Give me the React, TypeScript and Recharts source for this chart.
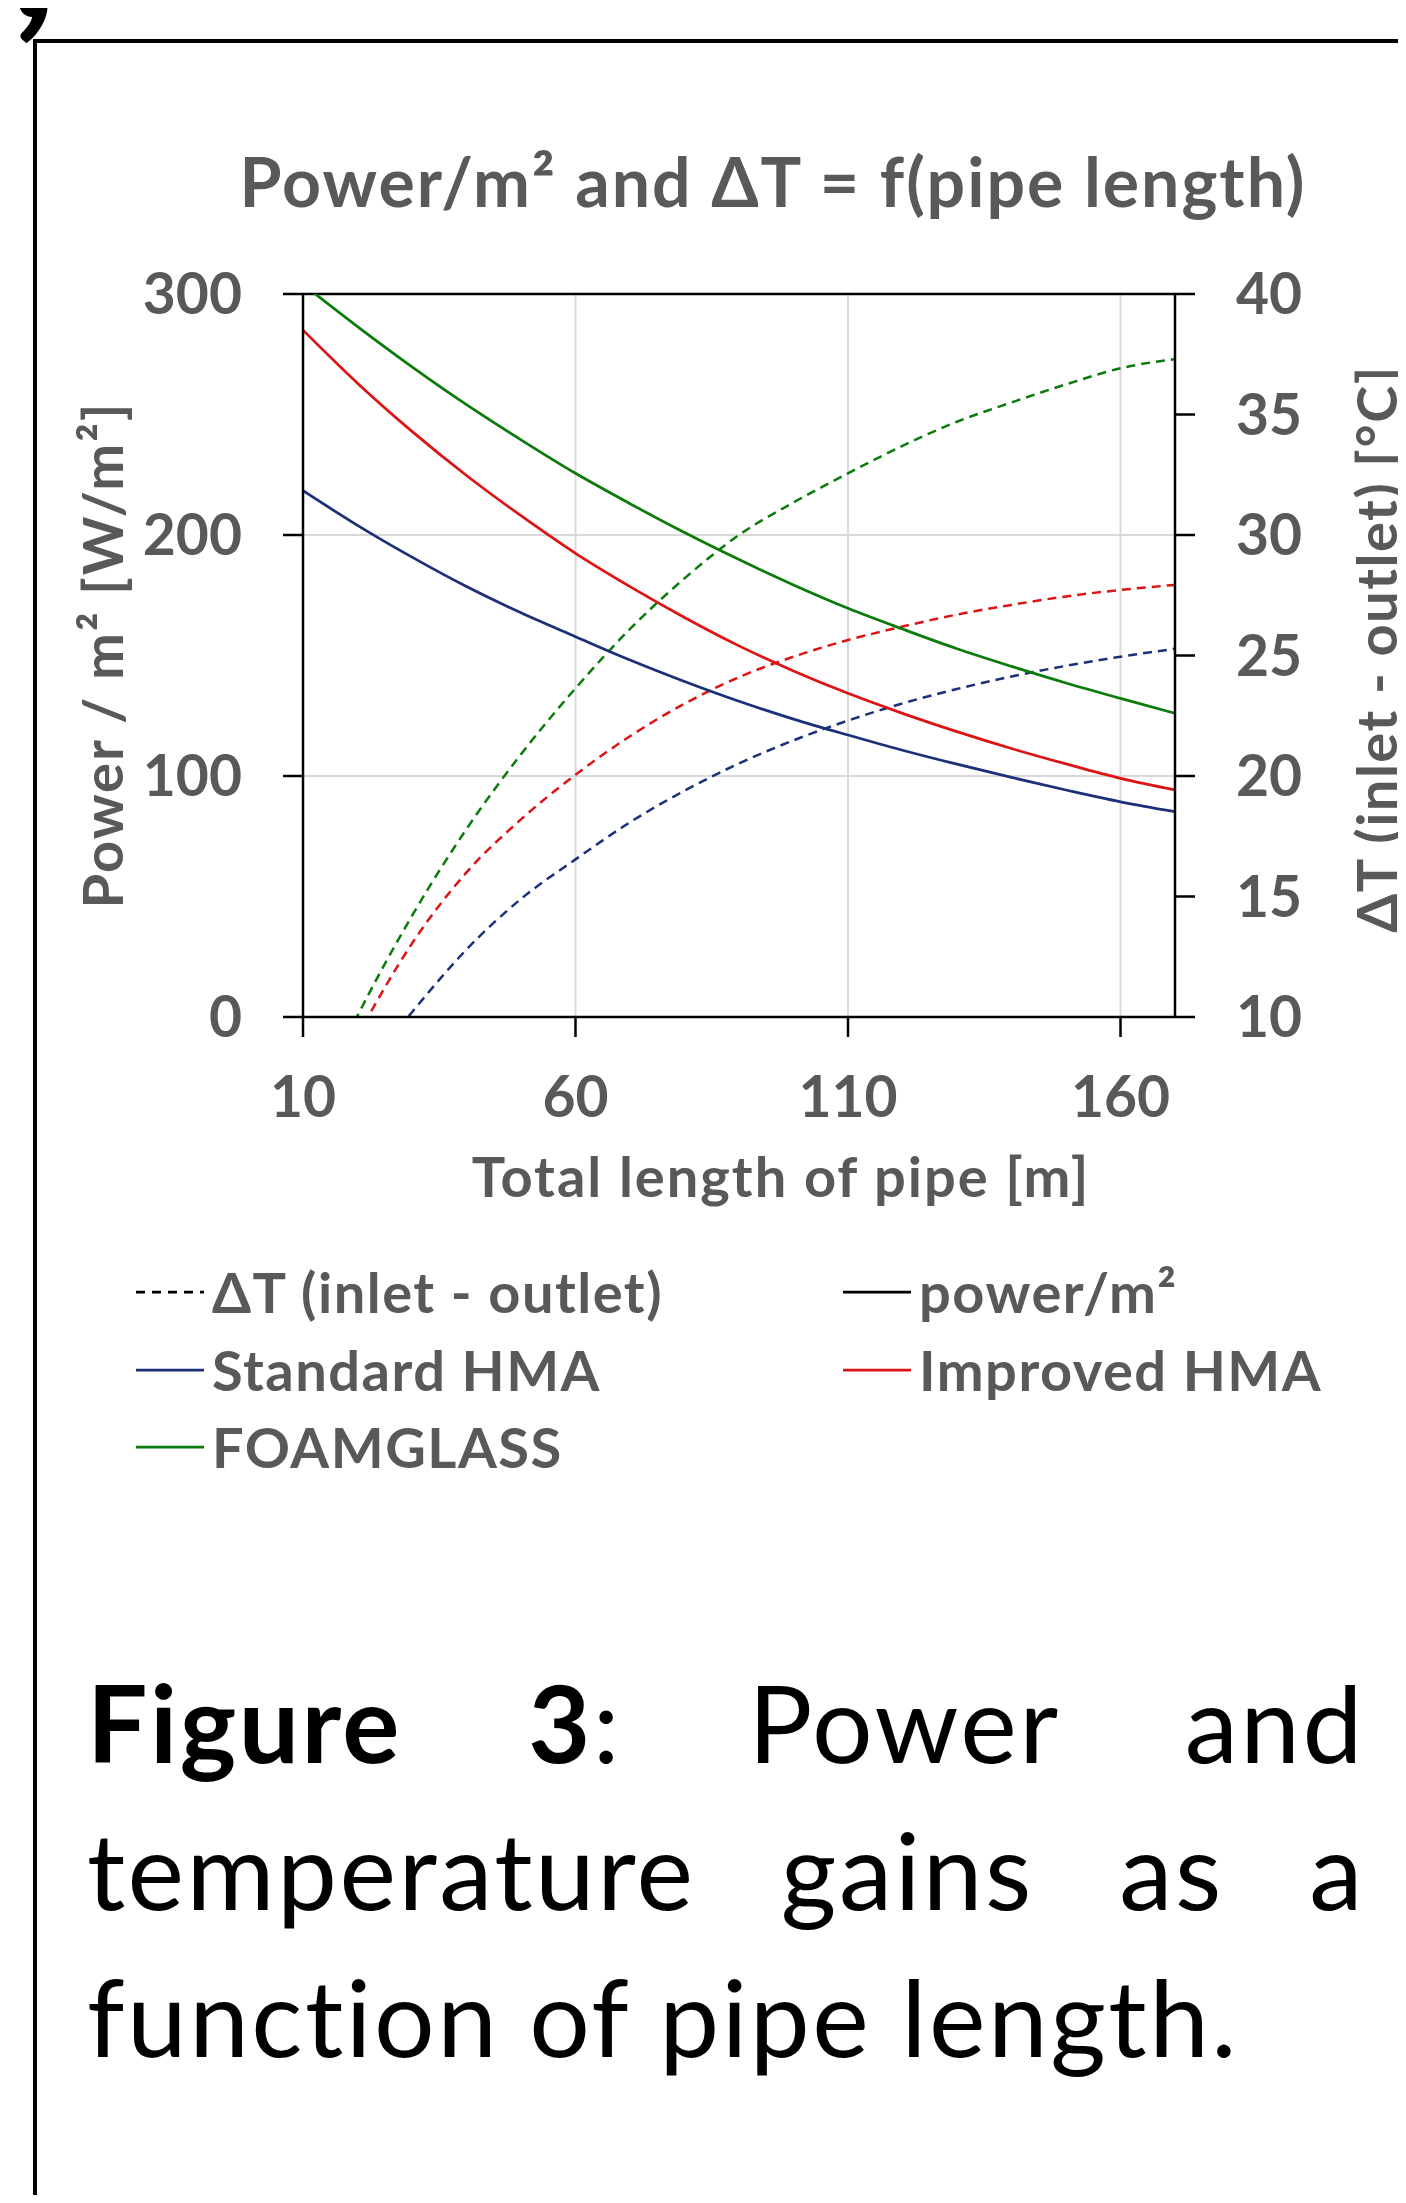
import React from 'react';
import { LineChart, Line, XAxis, YAxis, CartesianGrid, ReferenceLine, Legend } from 'recharts';

// pipe length [m]
const pipeLength = [10, 20, 30, 40, 50, 60, 70, 80, 90, 100, 110, 120, 130, 140, 150, 160, 170];

// power per m² [W/m²] (left axis)
const powerStandard = [218.4, 204, 190.8, 178.6, 167.7, 157.8, 148.1, 139.2, 131, 123.6, 117, 110.7, 104.9, 99.4, 94.2, 89.3, 85.2];
const powerImproved = [285, 263, 243, 224.7, 208, 192.4, 178.6, 165.8, 154, 143.6, 134.3, 126, 118.4, 111.4, 105, 99, 94.2];
const powerFoamglass = [304, 286.5, 269.8, 254.1, 239.5, 225.6, 213, 201, 189.8, 179.3, 169.6, 161, 152.8, 145.5, 138.6, 132.2, 126];

// ΔT inlet - outlet [°C] (right axis)
const deltaTStandard = [4.0, 7.35, 10.2, 12.8, 14.9, 16.54, 18.08, 19.39, 20.52, 21.48, 22.3, 23.01, 23.61, 24.13, 24.57, 24.95, 25.28];
const deltaTImproved = [4.7, 9.2, 13.05, 16.0, 18.2, 20.05, 21.65, 23.0, 24.1, 24.95, 25.64, 26.2, 26.7, 27.1, 27.45, 27.72, 27.93];
const deltaTFoamglass = [5.3, 10.05, 14.2, 17.8, 20.9, 23.64, 26.1, 28.2, 30.0, 31.35, 32.56, 33.7, 34.7, 35.5, 36.25, 36.92, 37.3];

const xTicks = [10, 60, 110, 160];
const powerTicks = [0, 100, 200, 300];
const deltaTTicks = [10, 15, 20, 25, 30, 35, 40];

const legendLabels = ['ΔT (inlet - outlet)', 'power/m²', 'Standard HMA', 'Improved HMA', 'FOAMGLASS'];

const NAVY = '#1b3079';
const RED = '#dc1414';
const GREEN = '#0b7b0b';
const GRAY = '#595959';
const FONT = 'Lato, "Open Sans", sans-serif';

const legendColors = ['#000000', '#000000', NAVY, RED, GREEN];
const legendDashed = [true, false, false, false, false];

const data = pipeLength.map((len, i) => ({
  length: len,
  pStd: powerStandard[i],
  pImp: powerImproved[i],
  pFoam: powerFoamglass[i],
  tStd: deltaTStandard[i],
  tImp: deltaTImproved[i],
  tFoam: deltaTFoamglass[i],
}));

const tickStyle = { fill: GRAY, fontSize: 57, fontFamily: FONT, fontWeight: 700 };
const axisStroke = { stroke: '#000', strokeWidth: 2.5 };

const AxisTitle = ({ px, py, rot, text, spacing }: { px: number; py: number; rot?: number; text: string; spacing: number }) => (
  <text
    x={px}
    y={py}
    transform={rot ? `rotate(${rot} ${px} ${py})` : undefined}
    textAnchor="middle"
    fill={GRAY}
    fontFamily={FONT}
    fontWeight={700}
    fontSize={56}
    style={{ letterSpacing: spacing }}
  >
    {text}
  </text>
);

const LegendBox = () => (
  <div style={{ position: 'relative', width: 1406, height: 240, fontFamily: FONT }}>
    {legendLabels.map((label, i) => {
      const col = i % 2;
      const row = Math.floor(i / 2);
      const left = col === 0 ? 136 : 843;
      const top = 42 + row * 77.5;
      return (
        <div key={label} style={{ position: 'absolute', left, top: top - 35, height: 70, display: 'flex', alignItems: 'center' }}>
          <svg width={70} height={70} style={{ display: 'block' }}>
            <line
              x1={0}
              x2={68}
              y1={35}
              y2={35}
              stroke={legendColors[i]}
              strokeWidth={2.75}
              strokeDasharray={legendDashed[i] ? '9 7' : undefined}
            />
          </svg>
          <span
            style={{
              marginLeft: 6,
              color: GRAY,
              fontSize: 56,
              fontWeight: 700,
              letterSpacing: 1.5,
              whiteSpace: 'nowrap',
              lineHeight: '70px',
            }}
          >
            {label}
          </span>
        </div>
      );
    })}
  </div>
);

const captionLine = {
  width: 1278,
  textAlign: 'justify' as const,
  textAlignLast: 'justify' as const,
  height: 147,
  lineHeight: '147px',
  whiteSpace: 'nowrap' as const,
};

export default function App() {
  return (
    <div style={{ position: 'relative', width: 1406, height: 2203, margin: -8, overflow: 'hidden', background: '#fff' }}>
      <div
        style={{
          position: 'absolute',
          left: 12,
          top: -143,
          fontFamily: FONT,
          fontWeight: 900,
          fontSize: 180,
          lineHeight: '180px',
          color: '#000',
        }}
      >
        ,
      </div>
      <div
        style={{
          position: 'absolute',
          left: 33,
          top: 39,
          width: 1500,
          height: 2300,
          borderLeft: '4px solid #000',
          borderTop: '4px solid #000',
        }}
      />
      <div
        style={{
          position: 'absolute',
          left: 773,
          top: 147,
          transform: 'translateX(-50%)',
          whiteSpace: 'nowrap',
          fontFamily: FONT,
          fontWeight: 700,
          fontSize: 68,
          lineHeight: '68px',
          letterSpacing: 2,
          color: GRAY,
        }}
      >
        Power/m² and ΔT = f(pipe length)
      </div>

      <div style={{ position: 'absolute', left: 0, top: 0 }}>
        <LineChart width={1406} height={1520} data={data} margin={{ top: 294, right: 0, bottom: 403, left: 0 }}>
          <CartesianGrid yAxisId="left" stroke="#d9d9d9" strokeWidth={2} />
          <XAxis
            dataKey="length"
            type="number"
            domain={[10, 170]}
            ticks={xTicks}
            interval={0}
            allowDataOverflow
            height={100}
            tickSize={20}
            tickMargin={40}
            axisLine={axisStroke}
            tickLine={axisStroke}
            tick={tickStyle}
            label={<AxisTitle px={781} py={1197} spacing={2} text="Total length of pipe [m]" />}
          />
          <YAxis
            yAxisId="left"
            type="number"
            domain={[0, 300]}
            ticks={powerTicks}
            interval={0}
            allowDataOverflow
            width={303}
            tickSize={20}
            tickMargin={41}
            axisLine={axisStroke}
            tickLine={axisStroke}
            tick={tickStyle}
            label={<AxisTitle px={123} py={655} rot={-90} spacing={2} text="Power / m² [W/m²]" />}
          />
          <YAxis
            yAxisId="right"
            orientation="right"
            type="number"
            domain={[10, 40]}
            ticks={deltaTTicks}
            interval={0}
            allowDataOverflow
            width={231}
            tickSize={20}
            tickMargin={41}
            axisLine={axisStroke}
            tickLine={axisStroke}
            tick={tickStyle}
            label={<AxisTitle px={1397} py={649} rot={-90} spacing={1.5} text="ΔT (inlet - outlet) [°C]" />}
          />
          <ReferenceLine yAxisId="left" y={300} stroke="#000" strokeWidth={2.5} />
          <Legend
            layout="horizontal"
            verticalAlign="middle"
            wrapperStyle={{ left: 0, top: 1250, width: 1406 }}
            content={() => <LegendBox />}
          />
          <Line yAxisId="right" type="monotone" dataKey="tFoam" stroke={GREEN} strokeWidth={2.5} strokeDasharray="9 6" dot={false} isAnimationActive={false} />
          <Line yAxisId="right" type="monotone" dataKey="tImp" stroke={RED} strokeWidth={2.5} strokeDasharray="9 6" dot={false} isAnimationActive={false} />
          <Line yAxisId="right" type="monotone" dataKey="tStd" stroke={NAVY} strokeWidth={2.5} strokeDasharray="9 6" dot={false} isAnimationActive={false} />
          <Line yAxisId="left" type="monotone" dataKey="pFoam" stroke={GREEN} strokeWidth={2.75} dot={false} isAnimationActive={false} />
          <Line yAxisId="left" type="monotone" dataKey="pImp" stroke={RED} strokeWidth={2.75} dot={false} isAnimationActive={false} />
          <Line yAxisId="left" type="monotone" dataKey="pStd" stroke={NAVY} strokeWidth={2.75} dot={false} isAnimationActive={false} />
        </LineChart>
      </div>

      <div style={{ position: 'absolute', left: 87, top: 1648, fontFamily: FONT, fontSize: 107, color: '#000', letterSpacing: 2.5 }}>
        <div style={captionLine}>
          <b>Figure</b> <b>3</b>: Power and
        </div>
        <div style={captionLine}>temperature gains as a</div>
        <div style={{ ...captionLine, textAlignLast: 'left' }}>function of pipe length.</div>
      </div>
    </div>
  );
}
